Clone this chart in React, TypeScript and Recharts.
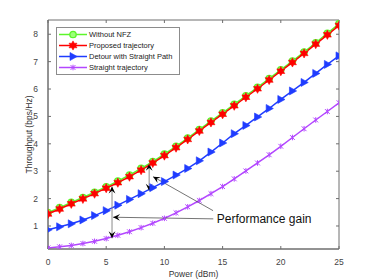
import React from 'react'
import {
  ComposedChart,
  Line,
  XAxis,
  YAxis,
  Legend,
  ReferenceLine,
  ReferenceDot,
  ReferenceArea,
} from 'recharts'

// transmit power (dBm)
const power = [
  0, 1, 2, 3, 4, 5, 6, 7, 8, 9, 10, 11, 12, 13, 14, 15, 16, 17, 18, 19, 20, 21,
  22, 23, 24, 25,
]
const withoutNfz = [
  1.49, 1.67, 1.86, 2.04, 2.23, 2.43, 2.64, 2.86, 3.1, 3.35, 3.62, 3.91, 4.21,
  4.52, 4.83, 5.13, 5.44, 5.75, 6.06, 6.38, 6.7, 7.02, 7.35, 7.69, 8.03, 8.38,
]
const proposed = [
  1.44, 1.62, 1.81, 1.99, 2.18, 2.38, 2.58, 2.8, 3.04, 3.3, 3.57, 3.86, 4.16,
  4.47, 4.78, 5.08, 5.39, 5.7, 6.01, 6.33, 6.65, 6.97, 7.3, 7.64, 7.98, 8.32,
]
const detour = [
  0.86, 0.97, 1.08, 1.22, 1.38, 1.56, 1.76, 1.97, 2.18, 2.4, 2.62, 2.86, 3.1,
  3.38, 3.7, 4.03, 4.37, 4.67, 4.98, 5.29, 5.62, 5.93, 6.24, 6.57, 6.9, 7.21,
]
const straight = [
  0.2, 0.24, 0.29, 0.36, 0.44, 0.54, 0.66, 0.79, 0.94, 1.1, 1.28, 1.48, 1.7,
  1.93, 2.18, 2.44, 2.72, 3.01, 3.3, 3.6, 3.91, 4.23, 4.55, 4.87, 5.18, 5.5,
]

const xTicks = [0, 5, 10, 15, 20, 25]
const yTicks = [1, 2, 3, 4, 5, 6, 7, 8]
const xDomain = [0, 25]
const yDomain = [0.16, 8.52]

// annotation positions, in data units
const gainArrows = [
  { x: 5.5, top: 2.44, bottom: 0.55 },
  { x: 8.69, top: 3.27, bottom: 2.29 },
]
const pointers = [
  { fromX: 14.2, fromY: 1.26, toX: 5.59, toY: 1.32 },
  { fromX: 14.18, fromY: 1.56, toX: 9.03, toY: 2.8 },
]
const gainLabel = { x: 14.5, y: 1.28, text: 'Performance gain' }

const seriesInfo = [
  { key: 'withoutNfz', name: 'Without NFZ', color: '#5cf52a', marker: 'circle' },
  { key: 'proposed', name: 'Proposed trajectory', color: '#ff0000', marker: 'hexagram' },
  { key: 'detour', name: 'Detour with Straight Path', color: '#1f3cff', marker: 'triangle' },
  { key: 'straight', name: 'Straight trajectory', color: '#b347ff', marker: 'cross' },
]
// straight first, proposed last so red sits on top of green
const drawOrder = ['straight', 'detour', 'withoutNfz', 'proposed']

const chartData = power.map((p, i) => ({
  p,
  withoutNfz: withoutNfz[i],
  proposed: proposed[i],
  detour: detour[i],
  straight: straight[i],
}))

const font = '"Liberation Sans", Arial, sans-serif'
const axisColor = '#6e6e6e'
const TICK_LEN = 3

const hexagramPath = (cx: number, cy: number, r: number) => {
  const pts: string[] = []
  for (let k = 0; k < 12; k++) {
    const a = (Math.PI / 6) * k - Math.PI / 2
    const rr = k % 2 === 0 ? r : r * 0.55
    pts.push(`${cx + rr * Math.cos(a)},${cy + rr * Math.sin(a)}`)
  }
  return `M${pts.join('L')}Z`
}

const Marker = ({ type, color, cx, cy }: any) => {
  if (cx == null || cy == null) return null
  if (type === 'circle') {
    return <circle cx={cx} cy={cy} r={3.2} fill="#9dff7a" stroke={color} strokeWidth={1.3} />
  }
  if (type === 'hexagram') {
    return <path d={hexagramPath(cx, cy, 4.6)} fill={color} stroke={color} strokeWidth={0.6} />
  }
  if (type === 'triangle') {
    return (
      <path
        d={`M${cx + 4.2},${cy} L${cx - 3},${cy - 4} L${cx - 3},${cy + 4} Z`}
        fill={color}
        stroke={color}
        strokeWidth={0.6}
      />
    )
  }
  return (
    <g stroke={color} strokeWidth={1}>
      <line x1={cx - 2.4} y1={cy - 2.4} x2={cx + 2.4} y2={cy + 2.4} />
      <line x1={cx - 2.4} y1={cy + 2.4} x2={cx + 2.4} y2={cy - 2.4} />
      <line x1={cx} y1={cy - 2.8} x2={cx} y2={cy + 2.8} />
    </g>
  )
}

const arrowHead = (tipX: number, tipY: number, fromX: number, fromY: number) => {
  const dx = tipX - fromX
  const dy = tipY - fromY
  const len = Math.sqrt(dx * dx + dy * dy) || 1
  const ux = dx / len
  const uy = dy / len
  const L = 7
  const W = 3.4
  const bx = tipX - ux * L
  const by = tipY - uy * L
  const nx = tipX - ux * L * 0.6
  const ny = tipY - uy * L * 0.6
  return `M${tipX},${tipY} L${bx - uy * W},${by + ux * W} L${nx},${ny} L${bx + uy * W},${by - ux * W} Z`
}

const DoubleArrow = (props: any) => {
  const { x1, y1, x2, y2 } = props
  return (
    <g>
      <line x1={x1} y1={y1} x2={x2} y2={y2} stroke="#8a8a8a" strokeWidth={1} />
      <path d={arrowHead(x1, y1, x2, y2)} fill="#000" />
      <path d={arrowHead(x2, y2, x1, y1)} fill="#000" />
    </g>
  )
}

const PointerArrow = (props: any) => {
  const { x1, y1, x2, y2 } = props
  return (
    <g>
      <line x1={x1} y1={y1} x2={x2} y2={y2} stroke="#3a3a3a" strokeWidth={0.7} />
      <path d={arrowHead(x2, y2, x1, y1)} fill="#000" />
    </g>
  )
}

// inner tick marks at both ends of a full-height / full-width reference line
const VerticalTicks = (props: any) => {
  const { x1, y1, x2, y2 } = props
  const top = Math.min(y1, y2)
  const bottom = Math.max(y1, y2)
  return (
    <g stroke={axisColor} strokeWidth={1}>
      <line x1={x1} y1={top} x2={x1} y2={top + TICK_LEN} />
      <line x1={x2} y1={bottom} x2={x2} y2={bottom - TICK_LEN} />
    </g>
  )
}

const HorizontalTicks = (props: any) => {
  const { x1, y1, x2, y2 } = props
  const left = Math.min(x1, x2)
  const right = Math.max(x1, x2)
  return (
    <g stroke={axisColor} strokeWidth={1}>
      <line x1={left} y1={y1} x2={left + TICK_LEN} y2={y1} />
      <line x1={right} y1={y2} x2={right - TICK_LEN} y2={y2} />
    </g>
  )
}

const LegendBox = () => (
  <div style={styles.legendBox}>
    {seriesInfo.map((s) => (
      <div key={s.key} style={styles.legendRow}>
        <svg width={30} height={11} style={{ display: 'block' }}>
          <line x1={1} y1={5.5} x2={29} y2={5.5} stroke={s.color} strokeWidth={1.5} />
          <Marker type={s.marker} color={s.color} cx={15} cy={5.5} />
        </svg>
        <span style={styles.legendText}>{s.name}</span>
      </div>
    ))}
  </div>
)

export default function App() {
  const tick = { fill: '#444', fontSize: 8.5, fontFamily: font }
  return (
    <div style={styles.page}>
      <ComposedChart
        width={374}
        height={280}
        data={chartData}
        margin={{ top: 20, right: 35, left: 0, bottom: 0 }}
      >
        <XAxis
          xAxisId="b"
          dataKey="p"
          type="number"
          domain={xDomain}
          ticks={xTicks}
          allowDataOverflow
          height={31}
          tickLine={false}
          tickMargin={4}
          axisLine={{ stroke: axisColor }}
          tick={tick}
          label={{
            value: 'Power (dBm)',
            position: 'insideBottom',
            offset: 3,
            style: { fill: '#333', fontSize: 8.5, fontFamily: font },
          }}
        />
        <YAxis
          yAxisId="l"
          type="number"
          domain={yDomain}
          ticks={yTicks}
          allowDataOverflow
          width={48}
          tickLine={false}
          tickMargin={4}
          axisLine={{ stroke: axisColor }}
          tick={tick}
          label={{
            value: 'Throughput (bps/Hz)',
            angle: -90,
            position: 'insideLeft',
            offset: 29,
            style: { textAnchor: 'middle', fill: '#333', fontSize: 8.5, fontFamily: font },
          }}
        />
        <ReferenceArea
          xAxisId="b"
          yAxisId="l"
          x1={xDomain[0]}
          x2={xDomain[1]}
          y1={yDomain[0]}
          y2={yDomain[1]}
          fill="none"
          fillOpacity={0}
          stroke={axisColor}
          strokeWidth={1}
          ifOverflow="visible"
        />
        {xTicks.map((t) => (
          <ReferenceLine
            key={`xt-${t}`}
            xAxisId="b"
            yAxisId="l"
            x={t}
            ifOverflow="visible"
            shape={<VerticalTicks />}
          />
        ))}
        {yTicks.map((t) => (
          <ReferenceLine
            key={`yt-${t}`}
            xAxisId="b"
            yAxisId="l"
            y={t}
            ifOverflow="visible"
            shape={<HorizontalTicks />}
          />
        ))}
        <Legend
          layout="vertical"
          align="center"
          verticalAlign="middle"
          content={<LegendBox />}
          wrapperStyle={{ left: 56, top: 27, width: 'auto' }}
        />
        {drawOrder.map((k) => {
          const s = seriesInfo.find((e) => e.key === k)!
          return (
            <Line
              key={s.key}
              xAxisId="b"
              yAxisId="l"
              dataKey={s.key}
              name={s.name}
              type="linear"
              stroke={s.color}
              strokeWidth={1.5}
              isAnimationActive={false}
              dot={(p: any) => (
                <Marker key={`${s.key}-${p.index}`} type={s.marker} color={s.color} cx={p.cx} cy={p.cy} />
              )}
              activeDot={false}
            />
          )
        })}
        {gainArrows.map((a, i) => (
          <ReferenceLine
            key={`gain-${i}`}
            xAxisId="b"
            yAxisId="l"
            segment={[
              { x: a.x, y: a.top },
              { x: a.x, y: a.bottom },
            ]}
            shape={<DoubleArrow />}
          />
        ))}
        {pointers.map((a, i) => (
          <ReferenceLine
            key={`ptr-${i}`}
            xAxisId="b"
            yAxisId="l"
            segment={[
              { x: a.fromX, y: a.fromY },
              { x: a.toX, y: a.toY },
            ]}
            shape={<PointerArrow />}
          />
        ))}
        <ReferenceDot
          xAxisId="b"
          yAxisId="l"
          x={gainLabel.x}
          y={gainLabel.y}
          shape={(p: any) => (
            <text
              x={p.cx}
              y={p.cy}
              dy="0.35em"
              fill="#111"
              fontSize={12}
              fontFamily={font}
            >
              {gainLabel.text}
            </text>
          )}
        />
      </ComposedChart>
    </div>
  )
}

const styles: Record<string, React.CSSProperties> = {
  page: {
    position: 'absolute',
    left: 0,
    top: 0,
    width: 374,
    height: 280,
    background: '#fff',
  },
  legendBox: {
    border: '1px solid #8c8c8c',
    background: '#fff',
    padding: '1px 4px 1px 1px',
    width: 124,
    boxSizing: 'border-box',
  },
  legendRow: {
    display: 'flex',
    alignItems: 'center',
    height: 11,
  },
  legendText: {
    fontFamily: font,
    fontSize: 7.5,
    color: '#222',
    marginLeft: 1,
    whiteSpace: 'nowrap',
  },
}
